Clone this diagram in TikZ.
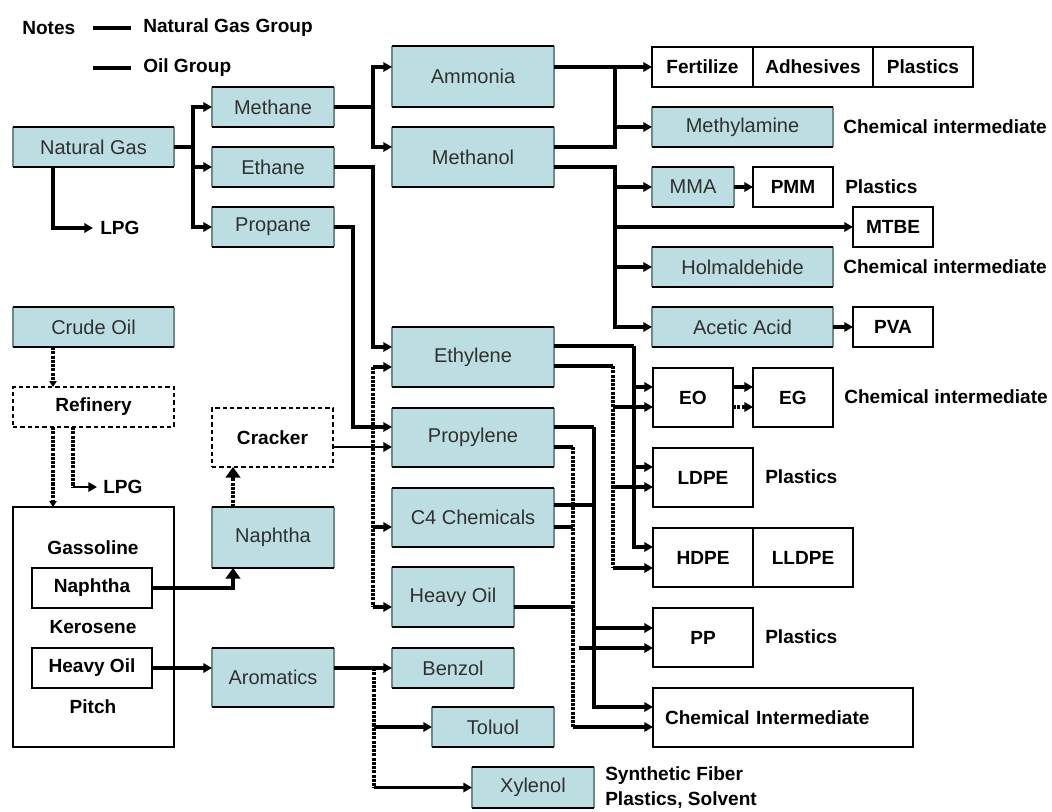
\documentclass[tikz,border=0pt]{standalone}
\usepackage{fontspec}
\setmainfont{Liberation Sans}
\usetikzlibrary{arrows.meta,calc}
\definecolor{boxfill}{RGB}{188,222,226}
\definecolor{boxside}{RGB}{110,138,138}
\definecolor{boxtext}{RGB}{48,48,48}
\tikzset{
  base/.style={inner sep=0pt, outer sep=0pt, font=\fontsize{15}{18}\selectfont},
  wh/.style 2 args={minimum width=#1*0.75pt, minimum height=#2*0.75pt},
  tealbox/.style={base, fill=boxfill, text=boxtext},
  whitebox/.style={base, draw=black, line width=1.2pt, font=\bfseries\fontsize{14.3}{17}\selectfont},
  dashbox/.style={whitebox, dash pattern=on 3.2pt off 2.3pt},
  lbl/.style={inner sep=0pt, anchor=west, font=\bfseries\fontsize{14.3}{17}\selectfont},
  gas/.style={line width=2.9pt},
  oil/.style={line width=2.4pt},
  slim/.style={line width=1.8pt},
  dots/.style={line width=2.7pt, dash pattern=on 2.3pt off 0.9pt},
  arr/.style={-{Triangle[length=6.5pt,width=7pt]}},
  smallarr/.style={-{Triangle[length=4.5pt,width=5.5pt]}},
  bigarr/.style={-{Triangle[length=8pt,width=11pt]}},
  tealside/.style={draw=boxside, line width=1.6pt},
  tealtb/.style={draw=black, line width=1.2pt},
}
\begin{document}
\begin{tikzpicture}[x=0.75pt,y=-0.75pt]
\useasboundingbox (0,0) rectangle (1052,811);

% ---------- legend ----------
\node[lbl] (notes) at (22,28) {Notes};
\node[lbl] (leggas) at (143,28) {Natural Gas Group};
\node[lbl] (legoil) at (143,68) {Oil Group};
\coordinate (lga) at (93,28);
\coordinate (lgb) at (131,28);
\coordinate (lgc) at (93,68);
\coordinate (lgd) at (131,68);
\draw[gas] (lga) -- (lgb);
\draw[gas] (lgc) -- (lgd);

% ---------- coloured process boxes ----------
\node[tealbox, wh={161}{40}] (ng) at (93.5,147) {Natural Gas};
\node[tealbox, wh={122}{40}] (methane) at (273,107) {Methane};
\node[tealbox, wh={122}{40}] (ethane) at (273,167) {Ethane};
\node[tealbox, wh={122}{40}] (propane) at (273,227) {Propane};
\node[tealbox, wh={162}{61}] (ammonia) at (473,76.5) {Ammonia};
\node[tealbox, wh={162}{60}] (methanol) at (473,157) {Methanol};
\node[tealbox, wh={181}{40}] (methylamine) at (742.5,127) {Methylamine};
\node[tealbox, wh={82}{40}] (mma) at (693,187) {MMA};
\node[tealbox, wh={181}{40}] (holm) at (742.5,267) {Holmaldehide};
\node[tealbox, wh={181}{40}] (acetic) at (742.5,327) {Acetic Acid};
\node[tealbox, wh={161}{40}] (crude) at (93.5,327) {Crude Oil};
\node[tealbox, wh={122}{61}] (naphtha) at (273,537.5) {Naphtha};
\node[tealbox, wh={122}{59}] (aromatics) at (273,677.5) {Aromatics};
\node[tealbox, wh={162}{60}] (ethylene) at (473,357) {Ethylene};
\node[tealbox, wh={162}{59}] (propylene) at (473,437.5) {Propylene};
\node[tealbox, wh={162}{59}] (c4) at (473,517.5) {C4 Chemicals};
\node[tealbox, wh={122}{60}] (heavy) at (453,597) {Heavy Oil};
\node[tealbox, wh={122}{40}] (benzol) at (453,668) {Benzol};
\node[tealbox, wh={122}{40}] (toluol) at (493,727) {Toluol};
\node[tealbox, wh={122}{41}] (xylenol) at (533,787.5) {Xylenol};

\foreach \n in {ng,methane,ethane,propane,ammonia,methanol,methylamine,mma,holm,acetic,crude,naphtha,aromatics,ethylene,propylene,c4,heavy,benzol,toluol,xylenol}{
  \draw[tealside] (\n.north west) -- (\n.south west) (\n.north east) -- (\n.south east);
  \draw[tealtb] (\n.north west) -- (\n.north east) (\n.south west) -- (\n.south east);
}

% ---------- product boxes ----------
\node[whitebox, wh={101}{40}] (fert) at (702.5,67) {Fertilize};
\node[whitebox, wh={120}{40}, anchor=west] (adh) at (fert.east) {Adhesives};
\node[whitebox, wh={100}{40}, anchor=west] (plas) at (adh.east) {Plastics};
\node[whitebox, wh={80}{40}] (pmm) at (793,187) {PMM};
\node[whitebox, wh={80}{40}] (mtbe) at (893,227) {MTBE};
\node[whitebox, wh={80}{40}] (pva) at (893,327) {PVA};
\node[whitebox, wh={80}{59}] (eo) at (693,397.5) {EO};
\node[whitebox, wh={80}{59}] (eg) at (793,397.5) {EG};
\node[whitebox, wh={100}{59}] (ldpe) at (703,477.5) {LDPE};
\node[whitebox, wh={100}{59}] (hdpe) at (703,557.5) {HDPE};
\node[whitebox, wh={100}{59}, anchor=west] (lldpe) at (hdpe.east) {LLDPE};
\node[whitebox, wh={100}{59}] (pp) at (703,637.5) {PP};
\node[whitebox, minimum height=44.25pt, text width=177pt, inner xsep=9pt, align=left] (chemint) at (783,717.5) {Chemical Intermediate};

% ---------- refinery side ----------
\node[whitebox, wh={161}{240}] (oilbox) at (93.5,627) {};
\node[whitebox, wh={120}{40}] (inaph) at (92,588) {Naphtha};
\node[whitebox, wh={120}{40}] (iheavy) at (92,668) {Heavy Oil};
\node[lbl, anchor=center] (gaso) at (93,548) {Gassoline};
\node[lbl, anchor=center] (kero) at (93,627) {Kerosene};
\node[lbl, anchor=center] (pitch) at (93,707) {Pitch};
\node[dashbox, wh={161}{40}] (refinery) at (93.5,407) {Refinery};
\node[dashbox, wh={121}{59}] (cracker) at (272.5,437.5) {Cracker};

% ---------- free labels ----------
\node[lbl] (lpga) at (100,228) {LPG};
\node[lbl] (lpgb) at (103,487) {LPG};
\node[lbl] (ci1) at (843,127) {Chemical intermediate};
\node[lbl] (ci2) at (843,267) {Chemical intermediate};
\node[lbl] (ci3) at (844,397) {Chemical intermediate};
\node[lbl] (pl1) at (845,187) {Plastics};
\node[lbl] (pl2) at (765,477) {Plastics};
\node[lbl] (pl3) at (765,637) {Plastics};
\node[lbl] (syn1) at (605,776) {Synthetic Fiber};
\node[lbl] (syn2) at (605,800) {Plastics, Solvent};

% ---------- natural gas branch ----------
\coordinate (ngj) at (193,147);
\draw[gas] (ng.east) -- (ngj);
\draw[gas,arr] (ngj) |- (methane.west);
\draw[gas,arr] (ngj) |- (ethane.west);
\draw[gas,arr] (ngj) |- (propane.west);
\draw[gas,arr] ($(ng.south west)+(40,0)$) |- ($(lpga.west)+(-7,0)$);

% methane -> ammonia / methanol
\coordinate (mj) at (373,107);
\draw[gas] (methane.east) -- (mj);
\draw[gas,arr] (mj) |- ($(ammonia.west)+(0,-9.5)$);
\draw[gas,arr] (mj) |- ($(methanol.west)+(0,-10)$);

% ammonia / methanol -> fertilizer, methylamine
\coordinate (aj) at (615,67);
\draw[gas,arr] ($(ammonia.east)+(0,-9.5)$) -- (fert.west);
\draw[gas] ($(methanol.east)+(0,-10)$) -| (aj);
\draw[gas,arr] (aj |- methylamine.west) -- (methylamine.west);

% methanol derivatives
\coordinate (mo) at (615,167);
\draw[gas,arr] ($(methanol.east)+(0,10)$) -- (mo) |- (acetic.west);
\draw[gas,arr] (mo |- mma.west) -- (mma.west);
\draw[gas,arr] (mo |- mtbe.west) -- (mtbe.west);
\draw[gas,arr] (mo |- holm.west) -- (holm.west);
\draw[oil,arr] (mma.east) -- (pmm.west);
\draw[oil,arr] (acetic.east) -- (pva.west);

% ethane / propane / cracker -> olefins
\coordinate (ej) at (373,167);
\draw[gas,arr] (ethane.east) -- (ej) |- ($(ethylene.west)+(0,-10)$);
\coordinate (pj) at (353,227);
\draw[gas,arr] (propane.east) -- (pj) |- ($(propylene.west)+(0,-10.5)$);
\draw[slim,arr] ($(cracker.east)+(0,9.5)$) -- ($(propylene.west)+(0,9.5)$);

% oil bus to ethylene, C4, heavy oil
\coordinate (ethin) at ($(ethylene.west)+(0,10)$);
\coordinate (c4in) at ($(c4.west)+(0,9.5)$);
\coordinate (hvin) at ($(heavy.west)+(0,10)$);
\coordinate (db) at (373,367);
\draw[dots] (db) -- (db |- hvin);
\draw[oil,arr] (db) -- (ethin);
\draw[oil,arr] (db |- c4in) -- (c4in);
\draw[oil,arr] (db |- hvin) -- (hvin);

% ethylene outputs
\coordinate (eyA) at ($(ethylene.east)+(0,-11)$);
\coordinate (eyB) at ($(ethylene.east)+(0,9)$);
\coordinate (eoA) at ($(eo.west)+(0,-10.5)$);
\coordinate (eoB) at ($(eo.west)+(0,9.5)$);
\coordinate (ldA) at ($(ldpe.west)+(0,-10.5)$);
\coordinate (ldB) at ($(ldpe.west)+(0,9.5)$);
\coordinate (hdA) at ($(hdpe.west)+(0,-10.5)$);
\coordinate (hdB) at ($(hdpe.west)+(0,10.5)$);
\coordinate (eb1) at (634,346);
\coordinate (eb2) at (613,366);
\draw[oil] (eyB) -- (eb2);
\draw[dots] (eb2) -- (eb2 |- hdB);
\draw[gas] (eyA) -- (eb1);
\draw[gas,arr] (eb1) |- (hdA);
\draw[gas,arr] (eb1 |- eoA) -- (eoA);
\draw[gas,arr] (eb1 |- ldA) -- (ldA);
\draw[oil,arr] (eb2 |- eoB) -- (eoB);
\draw[oil,arr] (eb2 |- ldB) -- (ldB);
\draw[oil,arr] (eb2 |- hdB) -- (hdB);

% EO -> EG
\draw[oil,arr] ($(eo.east)+(0,-10.5)$) -- ($(eg.west)+(0,-10.5)$);
\draw[dots,arr] ($(eo.east)+(0,9.5)$) -- ($(eg.west)+(0,9.5)$);

% propylene / C4 / heavy oil outputs
\coordinate (pyA) at ($(propylene.east)+(0,-10.5)$);
\coordinate (pyB) at ($(propylene.east)+(0,9.5)$);
\coordinate (c4A) at ($(c4.east)+(0,-12.5)$);
\coordinate (c4B) at ($(c4.east)+(0,9.5)$);
\coordinate (hvout) at ($(heavy.east)+(0,10)$);
\coordinate (ppA) at ($(pp.west)+(0,-9.5)$);
\coordinate (ppB) at ($(pp.west)+(0,10.5)$);
\coordinate (ciA) at ($(chemint.west)+(0,-10.5)$);
\coordinate (ciB) at ($(chemint.west)+(0,9.5)$);
\coordinate (pb1) at (594,427);
\coordinate (pb2) at (573,447);
\draw[oil] (pyB) -- (pb2);
\draw[dots] (pb2) -- (pb2 |- ciB);
\draw[oil] (c4B) -- (c4B -| pb2);
\draw[oil] (hvout) -- (hvout -| pb2);
\draw[gas] (pyA) -- (pb1);
\draw[gas,arr] (pb1) |- (ciA);
\draw[gas,arr] (pb1 |- ppA) -- (ppA);
\draw[gas] (c4A) -- (c4A -| pb1);
\draw[oil,arr] ($(pb2 |- ppB)+(6,0)$) -- (ppB);
\draw[oil,arr] (pb2 |- ciB) -- (ciB);

% crude oil chain
\draw[dots,smallarr] ($(crude.south west)+(40,0)$) -- ($(refinery.north west)+(40,0)$);
\draw[dots,smallarr] ($(refinery.south west)+(40,0)$) -- ($(oilbox.north west)+(40,0)$);
\coordinate (rl) at ($(refinery.south west)+(60,60)$);
\draw[dots] ($(refinery.south west)+(60,0)$) -- (rl);
\draw[slim,arr] (rl) -- ($(lpgb.west)+(-6,0)$);

% naphtha to cracker
\coordinate (nc) at ($(naphtha.south west)+(21,0)$);
\draw[oil,bigarr] (inaph.east) -| (nc);
\draw[dots,bigarr] ($(naphtha.north west)+(21,0)$) -- ($(cracker.south west)+(21,0)$);

% heavy oil to aromatics
\draw[gas,arr] (iheavy.east) -- (iheavy.east -| aromatics.west);
\coordinate (ab) at ($(benzol.west)+(-18,0)$);
\draw[dots] (ab) -- (ab |- xylenol.west);
\draw[gas,arr] (aromatics.east |- benzol.west) -- (benzol.west);
\draw[oil,arr] (ab |- toluol.west) -- (toluol.west);
\draw[oil,arr] (ab |- xylenol.west) -- (xylenol.west);
\end{tikzpicture}
\end{document}
